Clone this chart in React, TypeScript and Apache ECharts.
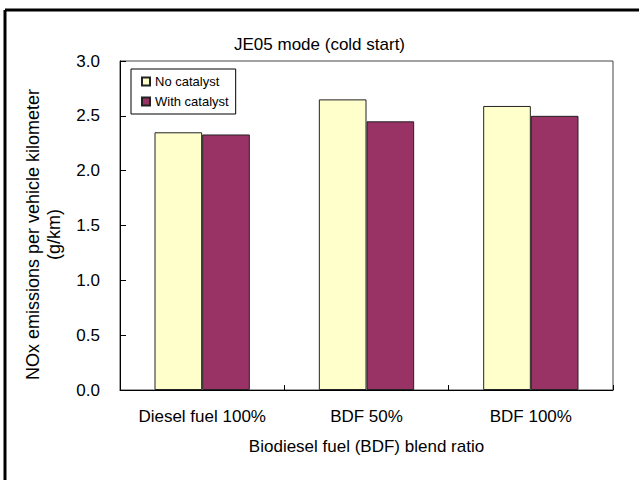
import React, { useEffect, useRef } from "react";
import * as echarts from "echarts";

const categories = ["Diesel fuel 100%", "BDF 50%", "BDF 100%"];
const noCatalyst = [2.35, 2.65, 2.59];
const withCatalyst = [2.33, 2.45, 2.5];
const yTicks = { min: 0, max: 3, interval: 0.5 };
const titleText = "JE05 mode (cold start)";
const xName = "Biodiesel fuel (BDF) blend ratio";
const yName = "NOx emissions per vehicle kilometer\n(g/km)";
const seriesNames = ["No catalyst", "With catalyst"];

const FONT = "'Liberation Sans', Arial, sans-serif";

export default function App() {
  const ref = useRef<HTMLDivElement>(null);
  useEffect(() => {
    if (!ref.current) return;
    const chart = echarts.init(ref.current, null, { renderer: "svg" });
    chart.setOption({
      animation: false,
      backgroundColor: "#fff",
      textStyle: { fontFamily: FONT },
      title: {
        text: titleText,
        left: "center",
        top: 31,
        textStyle: { fontFamily: FONT, fontSize: 17, fontWeight: "normal", color: "#000" },
      },
      legend: {
        orient: "vertical",
        left: 131,
        top: 69,
        backgroundColor: "#fff",
        borderColor: "#000",
        borderWidth: 1,
        borderRadius: 0,
        padding: [6, 7, 6, 10],
        itemGap: 7,
        itemWidth: 8,
        itemHeight: 8,
        icon: "rect",
        textStyle: { fontFamily: FONT, fontSize: 13, color: "#000" },
        data: seriesNames,
      },
      grid: {
        left: 120,
        right: 26,
        top: 61,
        bottom: 90,
        show: true,
        borderColor: "#444",
        borderWidth: 1,
        backgroundColor: "transparent",
      },
      xAxis: {
        type: "category",
        data: categories,
        name: xName,
        nameLocation: "middle",
        nameGap: 48,
        nameTextStyle: { fontFamily: FONT, fontSize: 17, color: "#000" },
        axisLine: { show: true, lineStyle: { color: "#000", width: 1 } },
        axisTick: { show: true, inside: true, length: 5, lineStyle: { color: "#000" } },
        axisLabel: { interval: 0, margin: 18, fontFamily: FONT, fontSize: 17, color: "#000" },
        splitLine: { show: false },
      },
      yAxis: {
        type: "value",
        min: yTicks.min,
        max: yTicks.max,
        interval: yTicks.interval,
        name: yName,
        nameLocation: "middle",
        nameGap: 56,
        nameTextStyle: {
          fontFamily: FONT,
          fontSize: 18,
          color: "#000",
          lineHeight: 21,
          padding: [0, 18, 0, 0],
        },
        axisLine: { show: true, lineStyle: { color: "#000", width: 1 } },
        axisTick: { show: true, inside: true, length: 6, lineStyle: { color: "#000" } },
        axisLabel: {
          margin: 20,
          fontFamily: FONT,
          fontSize: 17,
          color: "#000",
          formatter: (v: number) => v.toFixed(1),
        },
        splitLine: { show: false },
      },
      graphic: [
        {
          type: "line",
          shape: { x1: 5, y1: 10, x2: 639, y2: 10 },
          style: { stroke: "#000", lineWidth: 3 },
          z: 100,
        },
        {
          type: "line",
          shape: { x1: 5, y1: 10, x2: 5, y2: 480 },
          style: { stroke: "#000", lineWidth: 3 },
          z: 100,
        },
      ],
      series: [
        {
          name: seriesNames[0],
          type: "bar",
          data: noCatalyst,
          barCategoryGap: "42%",
          barGap: "0%",
          itemStyle: { color: "#FFFFCC", borderColor: "#222", borderWidth: 1 },
        },
        {
          name: seriesNames[1],
          type: "bar",
          data: withCatalyst,
          barCategoryGap: "42%",
          barGap: "0%",
          itemStyle: { color: "#993366", borderColor: "#222", borderWidth: 1 },
        },
      ],
    });
    return () => chart.dispose();
  }, []);
  return (
    <div
      ref={ref}
      style={{ position: "fixed", left: 0, top: 0, width: 639, height: 480, background: "#fff" }}
    />
  );
}
